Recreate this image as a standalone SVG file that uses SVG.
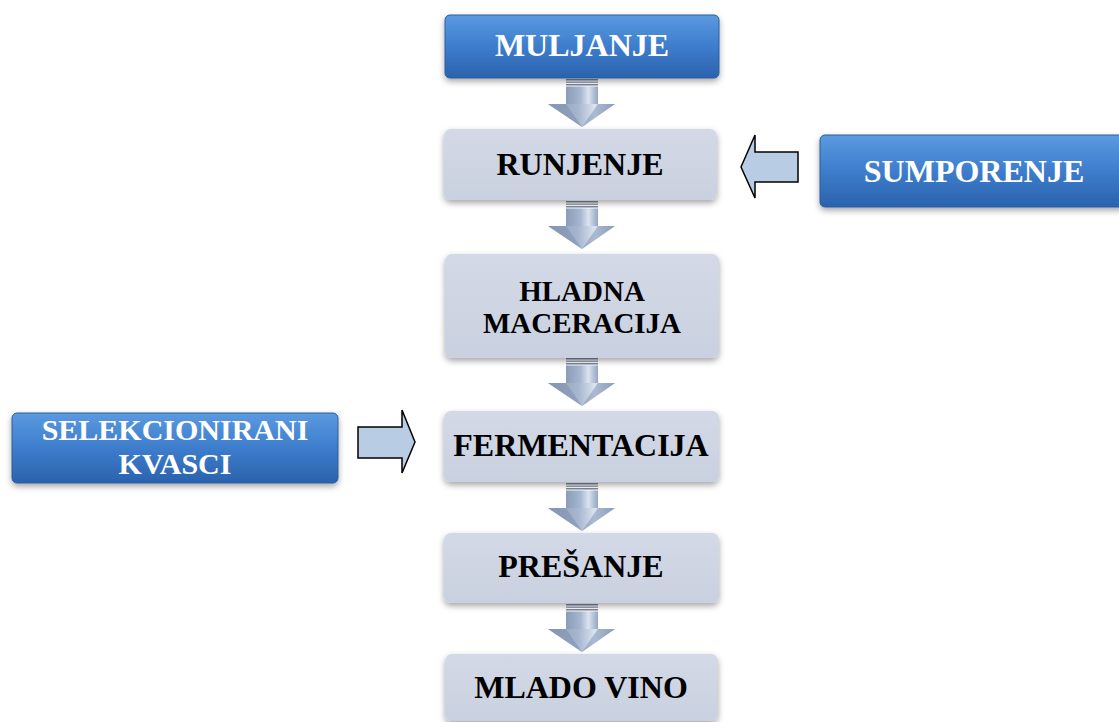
<svg xmlns="http://www.w3.org/2000/svg" width="1119" height="722" viewBox="0 0 1119 722">
<defs>
<linearGradient id="blue" x1="0" y1="0" x2="0" y2="1">
<stop offset="0" stop-color="#5b9ae0"/>
<stop offset="0.5" stop-color="#3d7dcc"/>
<stop offset="1" stop-color="#2b62ad"/>
</linearGradient>
<linearGradient id="light" x1="0" y1="0" x2="0" y2="1">
<stop offset="0" stop-color="#d3d9e6"/>
<stop offset="1" stop-color="#c9d0df"/>
</linearGradient>
<linearGradient id="arr" x1="0" y1="0" x2="1" y2="0">
<stop offset="0" stop-color="#8a9cb8"/>
<stop offset="0.45" stop-color="#a6b6cf"/>
<stop offset="0.7" stop-color="#dae3f0"/>
<stop offset="1" stop-color="#93a6c3"/>
</linearGradient>
<filter id="sh" x="-10%" y="-20%" width="120%" height="150%">
<feDropShadow dx="0" dy="3" stdDeviation="3" flood-color="#000" flood-opacity="0.35"/>
</filter>
<g id="down">
<rect x="-16" y="0" width="32" height="1.5" fill="#7d8698"/>
<rect x="-16" y="2.5" width="32" height="1.5" fill="#9aa4b6"/>
<rect x="-16" y="5" width="32" height="1.5" fill="#7d8698"/>
<rect x="-16" y="7.5" width="32" height="18" fill="url(#arr)"/>
<polygon points="-34,25 33,25 0,48" fill="url(#arr)"/>
<polygon points="-34,25 -16,25 0,48" fill="#8093b1" opacity="0.6"/>
<polygon points="16,25 33,25 0,48" fill="#7e92b0" opacity="0.5"/>
</g>
</defs>
<style>
.b{fill:url(#blue);stroke:#2d5d9c;stroke-width:1;filter:url(#sh)}
.l{fill:url(#light);filter:url(#sh)}
.tw{font-family:"Liberation Serif",serif;font-weight:bold;font-size:32px;fill:#fff;text-anchor:middle}
.tb{font-family:"Liberation Serif",serif;font-weight:bold;font-size:32px;fill:#000;text-anchor:middle}
.side{fill:#b8cce4;stroke:#000;stroke-width:1.5}
</style>
<g id="connectors">
<use href="#down" x="582" y="79"/>
<use href="#down" x="582" y="201"/>
<use href="#down" x="582" y="358"/>
<use href="#down" x="582" y="483"/>
<use href="#down" x="582" y="604"/>
<polygon class="side" points="741,167 755,135 755,152 798,152 798,182 755,182 755,198"/>
<polygon class="side" points="358,427 402,427 402,410 415,442 402,473 402,458 358,458"/>
</g>
<g id="muljanje"><rect class="b" x="445" y="15" width="274" height="63" rx="5"/><text class="tw" x="582" y="56">MULJANJE</text></g>
<g id="runjenje"><rect class="l" x="444" y="129" width="273" height="71" rx="7"/><text class="tb" x="580" y="175">RUNJENJE</text></g>
<g id="hladna"><rect class="l" x="445" y="254" width="274" height="104" rx="7"/><text class="tb" x="582" y="301" style="font-size:29px">HLADNA</text><text class="tb" x="582" y="333" style="font-size:29px">MACERACIJA</text></g>
<g id="fermentacija"><rect class="l" x="444" y="411" width="275" height="71" rx="7"/><text class="tb" x="581" y="456">FERMENTACIJA</text></g>
<g id="presanje"><rect class="l" x="444" y="533" width="275" height="70" rx="7"/><text class="tb" x="581" y="577">PREŠANJE</text></g>
<g id="mladovino"><rect class="l" x="445" y="654" width="273" height="67" rx="7"/><text class="tb" x="581" y="698">MLADO VINO</text></g>
<g id="sumporenje"><rect class="b" x="820" y="135" width="305" height="72" rx="5"/><text class="tw" x="974" y="182">SUMPORENJE</text></g>
<g id="kvasci"><rect class="b" x="12" y="413" width="326" height="70" rx="5"/><text class="tw" x="175" y="440" style="font-size:30px">SELEKCIONIRANI</text><text class="tw" x="175" y="474" style="font-size:30px">KVASCI</text></g>
</svg>
